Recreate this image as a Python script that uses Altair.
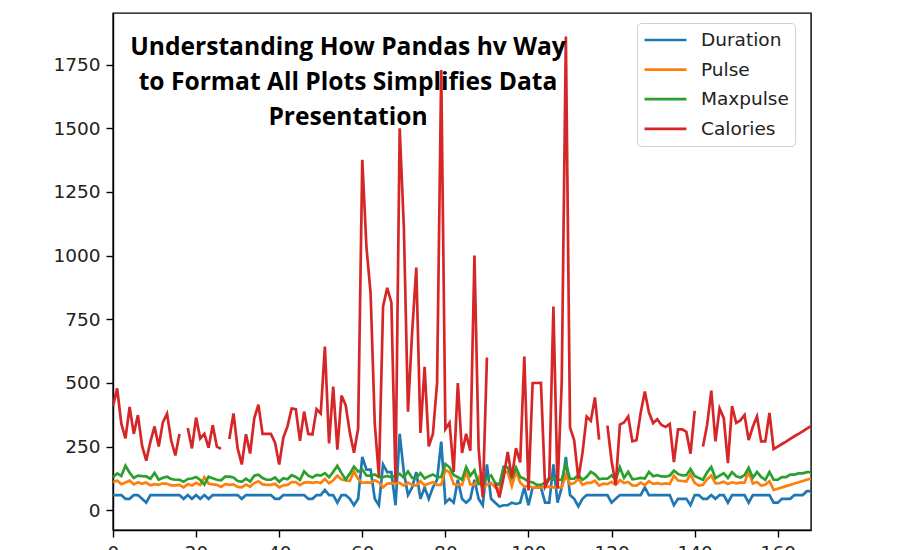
import altair as alt
import pandas as pd
import numpy as np

nan = None

duration = [60,60,60,45,45,60,60,45,30,60,
            60,60,60,60,60,60,60,45,60,45,
            60,45,60,45,60,60,60,60,60,60,
            60,45,60,60,60,60,60,60,60,45,
            45,60,60,60,60,60,60,45,45,60,
            60,80,60,60,30,60,60,45,20,45,
            210,160,160,45,20,180,150,150,20,300,
            150,60,90,150,45,90,45,90,120,270,
            30,45,30,120,45,30,45,120,45,20,
            180,45,30,15,20,20,30,25,30,90,
            20,90,90,90,30,30,180,30,90,210,
            60,45,15,45,60,60,60,60,60,60,
            30,45,60,60,60,60,60,60,90,60,
            60,60,60,60,60,20,45,45,45,20,
            60,60,45,45,60,45,60,60,30,60,
            60,60,60,30,60,60,60,60,60,30,
            30,45,45,45,60,60,60,75,75]

pulse = [110,117,103,109,117,102,110,104,109,98,
         103,100,106,104,98,98,100,90,103,97,
         108,100,130,105,102,100,92,103,100,102,
         92,90,101,93,107,114,102,100,100,104,
         90,98,100,111,111,99,109,111,108,111,
         107,123,106,118,136,121,118,115,153,123,
         108,110,109,118,110,90,105,107,106,108,
         97,109,100,97,114,98,105,110,100,100,
         159,149,103,100,100,151,102,100,129,83,
         101,107,90,80,150,151,95,152,109,93,
         95,90,90,90,92,93,90,90,90,137,
         102,107,124,100,108,108,116,97,105,103,
         112,100,119,107,111,98,97,109,99,114,
         104,107,103,106,103,136,117,115,113,141,
         108,97,100,122,136,106,107,112,103,110,
         106,109,109,150,105,111,97,100,114,80,
         85,90,95,100,105,110,115,120,125]

maxpulse = [130,145,135,175,148,127,136,134,133,124,
            147,120,128,132,123,120,120,112,123,125,
            131,119,101,132,126,120,118,132,132,129,
            115,112,124,113,136,140,127,120,120,129,
            112,126,122,138,131,119,153,136,129,139,
            136,146,130,151,175,146,121,144,172,152,
            160,137,135,141,130,130,135,130,136,143,
            129,153,127,127,146,125,134,141,130,131,
            182,169,139,130,120,170,136,157,103,107,
            127,137,107,100,171,168,128,168,131,124,
            112,110,100,100,108,128,120,120,120,184,
            124,124,139,120,131,151,141,122,125,124,
            137,120,169,127,151,122,124,127,125,151,
            134,138,133,132,136,156,143,137,138,162,
            135,127,120,149,170,126,136,146,127,150,
            134,129,138,167,128,151,131,120,150,120,
            120,130,130,140,140,145,145,150,150]

calories = [409.1,479.0,340.0,282.4,406.0,300.0,374.0,253.3,195.1,269.0,
            329.3,250.7,345.3,379.3,275.0,215.2,300.0,nan,323.0,243.0,
            364.2,282.0,300.0,246.0,334.5,250.0,241.0,nan,280.0,380.3,
            243.0,180.1,299.0,223.0,361.0,415.0,300.0,300.0,300.0,266.0,
            180.1,286.0,329.4,400.0,397.0,273.0,387.6,300.0,298.0,397.6,
            380.2,643.1,263.0,486.0,238.0,450.7,413.0,305.0,226.4,321.0,
            1376.0,1034.4,853.0,341.0,131.4,800.4,873.4,816.0,110.4,1500.2,
            1115.0,387.6,700.0,953.2,304.0,563.2,251.0,300.0,500.4,1729.0,
            319.2,344.0,151.1,500.0,225.3,300.1,234.0,1000.1,242.0,50.3,
            600.1,nan,105.3,50.5,127.4,229.4,128.2,244.2,188.2,604.1,
            77.7,500.0,500.0,500.4,92.7,124.0,800.3,86.2,500.3,1860.4,
            325.2,275.0,124.2,225.3,367.6,351.7,443.0,277.4,nan,332.7,
            193.9,100.7,336.7,344.9,368.5,271.0,275.3,382.0,466.4,384.0,
            342.5,357.5,335.0,327.5,339.0,189.0,317.7,318.0,308.0,222.4,
            390.0,nan,250.4,335.4,470.2,270.8,400.0,361.9,185.0,409.4,
            343.0,353.2,374.0,275.8,328.0,368.5,270.4,270.4,382.8,240.9,
            250.4,260.4,270.0,280.9,290.8,300.0,310.2,320.4,330.4]

series_names = ["Duration", "Pulse", "Maxpulse", "Calories"]
series_colors = ["#1f77b4", "#ff7f0e", "#2ca02c", "#d62728"]
title_lines = ["Understanding How Pandas hv Way",
               "to Format All Plots Simplifies Data",
               "Presentation"]
x_ticks = [0, 20, 40, 60, 80, 100, 120, 140, 160]
y_ticks = [0, 250, 500, 750, 1000, 1250, 1500, 1750]

rows = []
for name, vals in zip(series_names, [duration, pulse, maxpulse, calories]):
    for i, v in enumerate(vals):
        rows.append({"idx": i, "series": name, "value": v, "order": series_names.index(name)})
df = pd.DataFrame(rows)

all_vals = [v for vals in [duration, pulse, maxpulse, calories] for v in vals if v is not None]
lo, hi = min(all_vals), max(all_vals)
margin = (hi - lo) * 0.05
y_domain = [lo - margin, hi + margin]
x_domain = [0, len(duration) - 1]

chart = alt.Chart(df).mark_line(
    strokeWidth=2.7, invalid="break-paths-show-domains", clip=True
).encode(
    x=alt.X("idx:Q", scale=alt.Scale(domain=x_domain, nice=False, zero=False),
            axis=alt.Axis(values=x_ticks, title=None, grid=False, labelFlush=False, format="d")),
    y=alt.Y("value:Q", scale=alt.Scale(domain=y_domain, nice=False, zero=False),
            axis=alt.Axis(values=y_ticks, title=None, grid=False, format="d")),
    color=alt.Color("series:N",
                    scale=alt.Scale(domain=series_names, range=series_colors),
                    legend=alt.Legend(
                        title=None, orient="none", legendX=524, legendY=10,
                        symbolType="stroke", symbolSize=1764, symbolStrokeWidth=2.7,
                        labelFont="DejaVu Sans", labelFontSize=18.5, labelColor="#222222",
                        labelOffset=13, clipHeight=22, rowPadding=7.6, padding=6,
                        strokeColor="#d0d0d0", fillColor="white", cornerRadius=4,
                    )),
    detail="series:N",
    order=alt.Order("order:Q"),
).properties(
    width=698, height=517,
    title=alt.TitleParams(
        text=title_lines, anchor="start", frame="group", align="center",
        baseline="top", dx=235, dy=118, font="Open Sans", fontWeight="bold",
        fontSize=24.6, lineHeight=35, color="#000000", offset=0,
    ),
    autosize="none",
    padding={"left": 113, "top": 13, "right": 89, "bottom": 30},
).configure_view(
    stroke="#000000", strokeWidth=1.4
).configure_axis(
    domainColor="#000000", domainWidth=1.4, tickColor="#000000", tickWidth=1.4,
    tickSize=7, labelFont="DejaVu Sans", labelFontSize=18.5, labelColor="#222222",
    labelPadding=6,
)

chart.save("out.html", embed_options={"renderer": "svg", "actions": False})
